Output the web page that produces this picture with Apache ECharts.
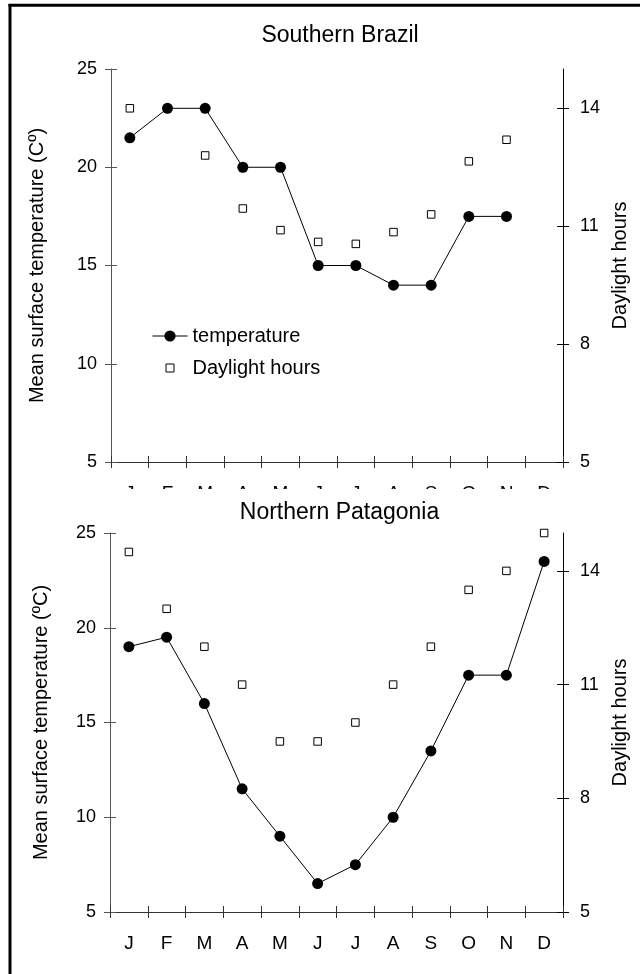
<!DOCTYPE html>
<html><head><meta charset="utf-8">
<script src="https://cdn.jsdelivr.net/npm/echarts@6/dist/echarts.min.js"></script>
<style>html,body{margin:0;padding:0;background:#fff}#c{width:640px;height:974px}</style>
</head><body><div id="c"></div>
<script>
// ---- data ----
const months = ['J','F','M','A','M','J','J','A','S','O','N','D'];
const brazilTemp = [21.5, 23, 23, 20, 20, 15, 15, 14, 14, 17.5, 17.5, null];
const brazilDaylight = [14.0, null, 12.8, 11.45, 10.9, 10.6, 10.55, 10.85, 11.3, 12.65, 13.2, null];
const patagoniaTemp = [19, 19.5, 16, 11.5, 9, 6.5, 7.5, 10, 13.5, 17.5, 17.5, 23.5];
const patagoniaDaylight = [14.5, 13, 12, 11, 9.5, 9.5, 10, 11, 12, 13.5, 14, 15];
const tempTicks = [5, 10, 15, 20, 25];
const daylightTicks = [5, 8, 11, 14];
const titles = ['Southern Brazil', 'Northern Patagonia'];
const leftNames = ['Mean surface temperature (Cº)', 'Mean surface temperature (ºC)'];
const rightName = 'Daylight hours';
const seriesNames = ['temperature', 'Daylight hours'];

// ---- layout / style ----
const FONT = 'Liberation Sans, Arial, sans-serif';
const grids = [
  {left: 111, top: 69, width: 452, height: 393},
  {left: 110, top: 533, width: 453, height: 379}
];
const leftNameGap = [64, 59];
const panels = [
  {temp: brazilTemp, day: brazilDaylight},
  {temp: patagoniaTemp, day: patagoniaDaylight}
];
const AXC = '#333';

const xAxis = [], yAxis = [], series = [], title = [];
grids.forEach((g, i) => {
  title.push({
    text: titles[i], left: g.left + g.width / 2 - 2, textAlign: 'center',
    top: i === 0 ? 19 : 496, z: 10,
    textStyle: {fontFamily: FONT, fontSize: 23, fontWeight: 'normal', color: '#000'}
  });
  xAxis.push({
    type: 'category', gridIndex: i, data: months, position: 'bottom', boundaryGap: true,
    axisLine: {show: true, lineStyle: {color: AXC, width: 1}},
    axisTick: {show: true, inside: false, length: 6, lineStyle: {color: AXC, width: 1}},
    axisLabel: {show: true, margin: 22, fontFamily: FONT, fontSize: 19, color: '#000', interval: 0},
    splitLine: {show: false}
  });
  xAxis.push({
    type: 'category', gridIndex: i, data: months, position: 'bottom', boundaryGap: true,
    axisLine: {show: false},
    axisTick: {show: true, inside: true, length: 6, lineStyle: {color: AXC, width: 1}},
    axisLabel: {show: false}, splitLine: {show: false}
  });
  const leftBase = {
    type: 'value', gridIndex: i, position: 'left', min: tempTicks[0], max: tempTicks[tempTicks.length - 1],
    interval: tempTicks[1] - tempTicks[0], splitLine: {show: false}
  };
  yAxis.push(Object.assign({}, leftBase, {
    name: leftNames[i], nameLocation: 'middle', nameGap: leftNameGap[i],
    nameTextStyle: {fontFamily: FONT, fontSize: 20, color: '#000'},
    axisLine: {show: true, lineStyle: {color: '#555', width: 1}},
    axisTick: {show: true, inside: false, length: 6, lineStyle: {color: '#555', width: 1}},
    axisLabel: {show: true, margin: 14, fontFamily: FONT, fontSize: 18, color: '#000'}
  }));
  yAxis.push(Object.assign({}, leftBase, {
    axisLine: {show: false},
    axisTick: {show: true, inside: true, length: 6, lineStyle: {color: '#555', width: 1}},
    axisLabel: {show: false}
  }));
  const rightBase = {
    type: 'value', gridIndex: i, position: 'right', min: 5, max: 15, splitLine: {show: false}
  };
  yAxis.push(Object.assign({}, rightBase, {
    name: rightName, nameLocation: 'middle', nameGap: 47,
    nameTextStyle: {fontFamily: FONT, fontSize: 20, color: '#000'},
    axisLine: {show: true, lineStyle: {color: '#000', width: 1}},
    axisTick: {show: true, inside: false, length: 6, customValues: daylightTicks, lineStyle: {color: '#000', width: 1}},
    axisLabel: {show: true, margin: 17, customValues: daylightTicks, fontFamily: FONT, fontSize: 18, color: '#000'}
  }));
  yAxis.push(Object.assign({}, rightBase, {
    axisLine: {show: false},
    axisTick: {show: true, inside: true, length: 6, customValues: daylightTicks, lineStyle: {color: '#000', width: 1}},
    axisLabel: {show: false}
  }));
  series.push({
    name: seriesNames[1], type: 'scatter', xAxisIndex: 2 * i, yAxisIndex: 4 * i + 2,
    data: panels[i].day, symbol: 'rect', symbolSize: 7.5, clip: false, z: 2,
    itemStyle: {color: '#fff', borderColor: '#000', borderWidth: 1, opacity: 1}
  });
  series.push({
    name: seriesNames[0], type: 'line', xAxisIndex: 2 * i, yAxisIndex: 4 * i,
    data: panels[i].temp, symbol: 'circle', symbolSize: 11, showSymbol: true, clip: false, z: 3,
    connectNulls: false, animation: false,
    lineStyle: {color: '#000', width: 1},
    itemStyle: {color: '#000', borderWidth: 0}
  });
});

const option = {
  animation: false,
  backgroundColor: '#fff',
  title: title,
  grid: grids.map(g => Object.assign({containLabel: false}, g)),
  xAxis: xAxis,
  yAxis: yAxis,
  legend: {
    orient: 'vertical', left: 147, top: 321, itemWidth: 35, itemHeight: 14, itemGap: 12,
    selectedMode: false,
    textStyle: {fontFamily: FONT, fontSize: 20, color: '#000'},
    lineStyle: {width: 1},
    data: [
      {name: seriesNames[0]},
      {name: seriesNames[1], icon: 'path://M0,0M35,14M13.5,3h8v8h-8z', itemStyle: {color: '#fff', borderColor: '#000', borderWidth: 1}}
    ]
  },
  graphic: [
    {type: 'rect', shape: {x: 100, y: 489, width: 480, height: 16}, style: {fill: '#fff'}, z: 5, silent: true},
    {type: 'line', shape: {x1: 10, y1: 4, x2: 10, y2: 974}, style: {stroke: '#000', lineWidth: 3}, z: 20},
    {type: 'line', shape: {x1: 8.5, y1: 5.3, x2: 640, y2: 5.3}, style: {stroke: '#000', lineWidth: 3}, z: 20}
  ],
  series: series
};
const chart = echarts.init(document.getElementById('c'), null, {renderer: 'canvas'});
chart.setOption(option);
</script></body></html>
